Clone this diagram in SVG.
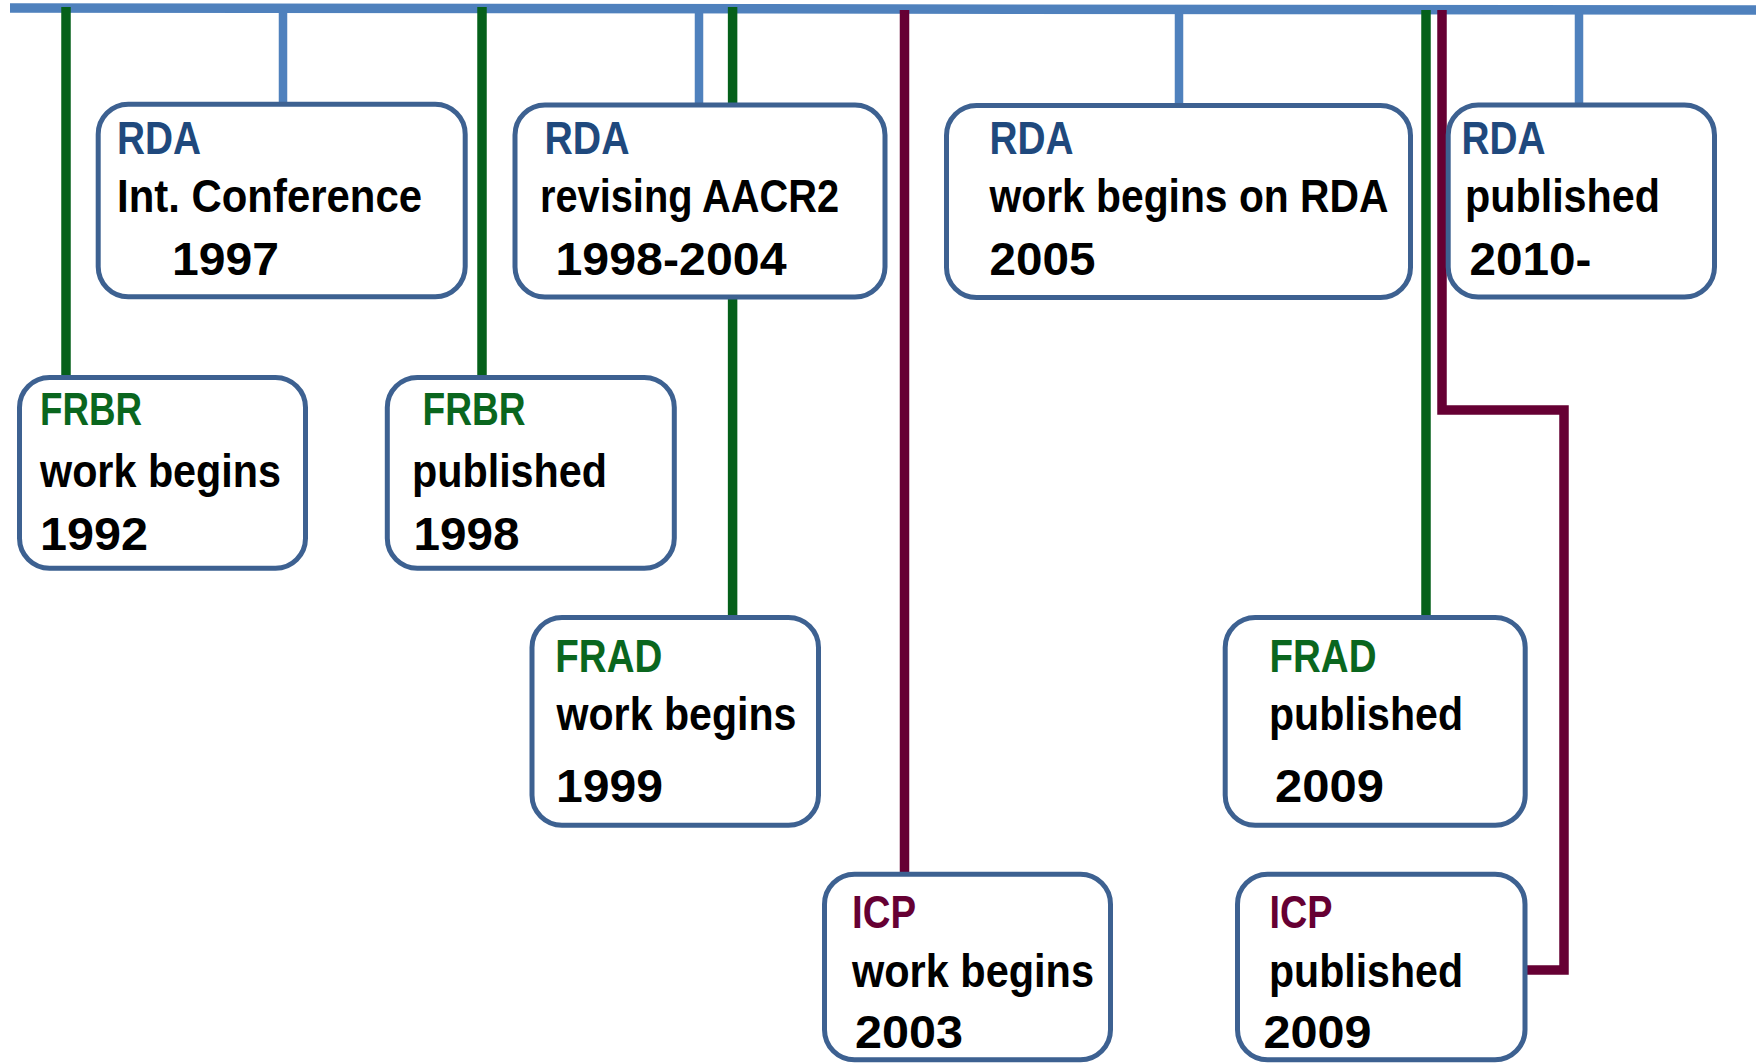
<svg xmlns="http://www.w3.org/2000/svg" width="1756" height="1063" viewBox="0 0 1756 1063">
<style>
.box{fill:#fff;stroke:#3D6191;stroke-width:5}
text{font-family:"Liberation Sans Narrow","Liberation Sans",Arial,sans-serif;font-weight:bold;font-size:47px;fill:#000}
.rda{fill:#1F497D}
.frbr{fill:#0A661E}
.icp{fill:#660033}
.blue{stroke:#4F81BD;stroke-width:8.5;fill:none}
.green{stroke:#05601A;stroke-width:9.5;fill:none}
.maroon{stroke:#660033;stroke-width:9.5;fill:none}
</style>
<rect width="1756" height="1063" fill="#fff"/>
<g id="connectors">
<line class="blue" x1="10" y1="8" x2="1756" y2="10" style="stroke-width:9.5"/>
<line class="blue" x1="283" y1="10" x2="283" y2="105"/>
<line class="blue" x1="699" y1="10" x2="699" y2="106"/>
<line class="blue" x1="1179" y1="10" x2="1179" y2="106"/>
<line class="blue" x1="1579" y1="10" x2="1579" y2="105"/>
<line class="green" x1="66" y1="7" x2="66" y2="377"/>
<line class="green" x1="482" y1="7" x2="482" y2="377"/>
<line class="green" x1="732.6" y1="7" x2="732.6" y2="617"/>
<line class="green" x1="1426" y1="10" x2="1426" y2="617"/>
<line class="maroon" x1="904.5" y1="10" x2="904.5" y2="874"/>
<path class="maroon" d="M1442 10 V410 H1564 V970 H1525"/>
</g>
<g id="rda-1997">
<rect class="box" x="98.2" y="104.2" width="367" height="192.6" rx="30"/>
<text class="rda" x="117" y="154" textLength="84" lengthAdjust="spacingAndGlyphs">RDA</text>
<text x="117" y="212" textLength="305" lengthAdjust="spacingAndGlyphs">Int. Conference</text>
<text x="172" y="275" textLength="107" lengthAdjust="spacingAndGlyphs">1997</text>
</g>
<g id="rda-1998">
<rect class="box" x="515" y="105" width="370" height="192" rx="30"/>
<text class="rda" x="544.5" y="154" textLength="85" lengthAdjust="spacingAndGlyphs">RDA</text>
<text x="540" y="212" textLength="299" lengthAdjust="spacingAndGlyphs">revising AACR2</text>
<text x="555.5" y="275" textLength="231" lengthAdjust="spacingAndGlyphs">1998-2004</text>
</g>
<g id="rda-2005">
<rect class="box" x="946.5" y="105.5" width="464" height="192" rx="30"/>
<text class="rda" x="989.5" y="154" textLength="84" lengthAdjust="spacingAndGlyphs">RDA</text>
<text x="989.5" y="212" textLength="399" lengthAdjust="spacingAndGlyphs">work begins on RDA</text>
<text x="989.5" y="275" textLength="106" lengthAdjust="spacingAndGlyphs">2005</text>
</g>
<g id="rda-2010">
<rect class="box" x="1448.2" y="105" width="266.3" height="192" rx="30"/>
<text class="rda" x="1461.5" y="154" textLength="84" lengthAdjust="spacingAndGlyphs">RDA</text>
<text x="1465" y="212" textLength="195" lengthAdjust="spacingAndGlyphs">published</text>
<text x="1469.5" y="275" textLength="122" lengthAdjust="spacingAndGlyphs">2010-</text>
</g>
<g id="frbr-1992">
<rect class="box" x="19.5" y="377.5" width="286" height="190.7" rx="30"/>
<text class="frbr" x="40" y="425" textLength="102" lengthAdjust="spacingAndGlyphs">FRBR</text>
<text x="40" y="486.7" textLength="241" lengthAdjust="spacingAndGlyphs">work begins</text>
<text x="40" y="550" textLength="108" lengthAdjust="spacingAndGlyphs">1992</text>
</g>
<g id="frbr-1998">
<rect class="box" x="387.3" y="377.5" width="287" height="190.7" rx="30"/>
<text class="frbr" x="422.5" y="425" textLength="103" lengthAdjust="spacingAndGlyphs">FRBR</text>
<text x="412" y="486.7" textLength="195" lengthAdjust="spacingAndGlyphs">published</text>
<text x="413.5" y="550" textLength="106" lengthAdjust="spacingAndGlyphs">1998</text>
</g>
<g id="frad-1999">
<rect class="box" x="532" y="617.5" width="286.5" height="207.7" rx="30"/>
<text class="frbr" x="555.3" y="671.7" textLength="107" lengthAdjust="spacingAndGlyphs">FRAD</text>
<text x="556.5" y="730" textLength="240" lengthAdjust="spacingAndGlyphs">work begins</text>
<text x="556" y="802.3" textLength="107" lengthAdjust="spacingAndGlyphs">1999</text>
</g>
<g id="icp-2003">
<rect class="box" x="824.5" y="874.2" width="286" height="185.5" rx="30"/>
<text class="icp" x="852" y="928.3" textLength="64" lengthAdjust="spacingAndGlyphs">ICP</text>
<text x="852" y="986.7" textLength="242" lengthAdjust="spacingAndGlyphs">work begins</text>
<text x="855" y="1048" textLength="108" lengthAdjust="spacingAndGlyphs">2003</text>
</g>
<g id="frad-2009">
<rect class="box" x="1225.2" y="617.5" width="300" height="207.7" rx="30"/>
<text class="frbr" x="1269.5" y="671.7" textLength="107" lengthAdjust="spacingAndGlyphs">FRAD</text>
<text x="1269" y="730" textLength="194" lengthAdjust="spacingAndGlyphs">published</text>
<text x="1275" y="802.3" textLength="109" lengthAdjust="spacingAndGlyphs">2009</text>
</g>
<g id="icp-2009">
<rect class="box" x="1237.5" y="874.2" width="287.5" height="185.5" rx="30"/>
<text class="icp" x="1269.5" y="928.3" textLength="63" lengthAdjust="spacingAndGlyphs">ICP</text>
<text x="1269" y="986.7" textLength="194" lengthAdjust="spacingAndGlyphs">published</text>
<text x="1263.5" y="1048" textLength="108" lengthAdjust="spacingAndGlyphs">2009</text>
</g>
</svg>
